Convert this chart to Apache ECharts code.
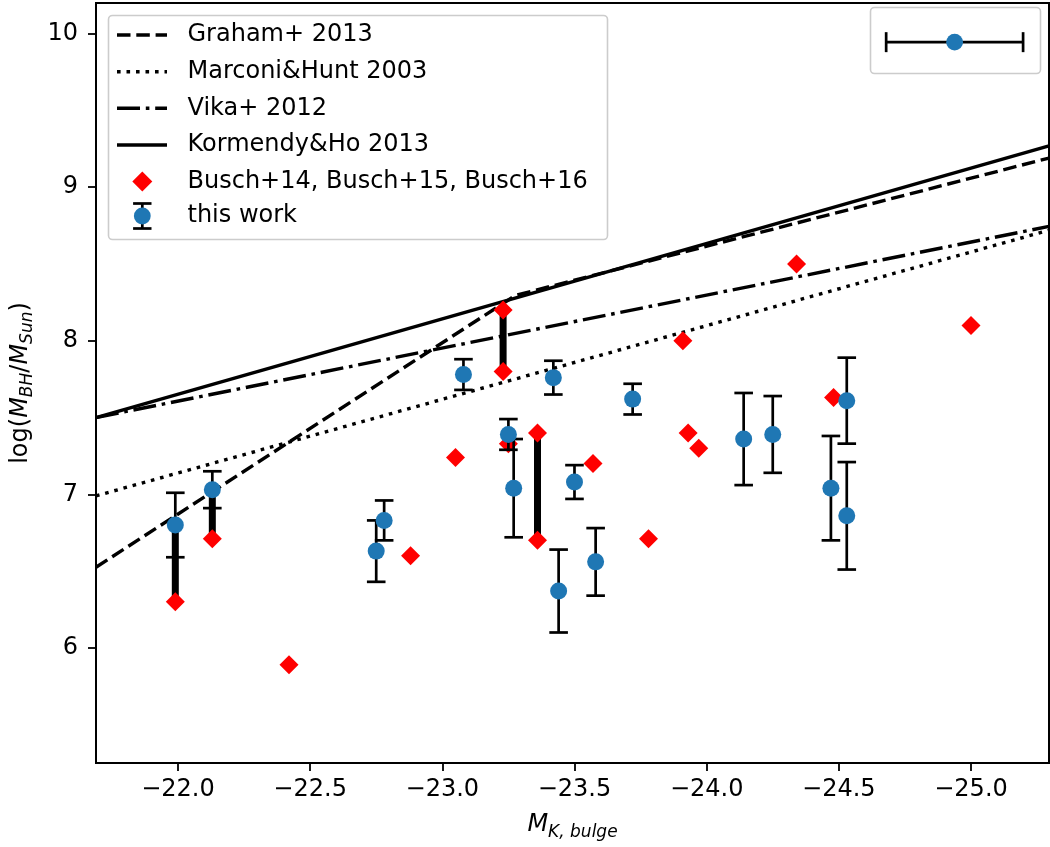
<!DOCTYPE html>
<html>
<head>
<meta charset="utf-8">
<script src="https://cdn.jsdelivr.net/npm/echarts@6/dist/echarts.min.js"></script>
<style>
html,body{margin:0;padding:0;background:#fff;}
#chart{width:1050px;height:847px;}
</style>
</head>
<body>
<div id="chart"></div>
<script>
// ---------------- DATA ----------------
// axis limits (x axis is inverted: brighter magnitudes to the right)
const xLimits = [-25.295, -21.69];
const yLimits = [5.25, 10.2];
const xTickValues = [-22.0, -22.5, -23.0, -23.5, -24.0, -24.5, -25.0];
const yTickValues = [6, 7, 8, 9, 10];

// scaling relations (endpoints / break points)
const grahamLine    = [[-21.69, 6.525], [-23.276, 8.295], [-25.295, 9.19]];
const marconiLine   = [[-21.69, 6.99], [-25.295, 8.72]];
const vikaLine      = [[-21.69, 7.50], [-25.295, 8.745]];
const kormendyLine  = [[-21.69, 7.50], [-25.295, 9.27]];

// this work: M_K,bulge, log M_BH, lower bound, upper bound
const workM   = [-21.99, -22.13, -22.75, -22.78, -23.08, -23.25, -23.27, -23.42, -23.44, -23.50, -23.58, -23.72, -24.14, -24.25, -24.47, -24.53, -24.53];
const workLog = [6.80, 7.03, 6.63, 6.83, 7.78, 7.39, 7.04, 7.76, 6.37, 7.08, 6.56, 7.62, 7.36, 7.39, 7.04, 7.61, 6.86];
const workLo  = [6.59, 6.91, 6.43, 6.70, 7.68, 7.29, 6.72, 7.65, 6.10, 6.97, 6.34, 7.52, 7.06, 7.14, 6.70, 7.33, 6.51];
const workHi  = [7.01, 7.15, 6.83, 6.96, 7.88, 7.49, 7.36, 7.87, 6.64, 7.19, 6.78, 7.72, 7.66, 7.64, 7.38, 7.89, 7.21];

// Busch+14, Busch+15, Busch+16
const buschM   = [-21.99, -22.13, -22.42, -22.88, -23.05, -23.23, -23.23, -23.25, -23.36, -23.36, -23.57, -23.78, -23.91, -23.93, -23.97, -24.34, -24.48, -25.00];
const buschLog = [6.30, 6.71, 5.89, 6.60, 7.24, 8.20, 7.80, 7.33, 7.40, 6.70, 7.20, 6.71, 8.00, 7.40, 7.30, 8.50, 7.63, 8.10];

// thick connectors between measurements of the same object: M, log1, log2
const connM  = [-21.99, -22.13, -23.23, -23.36];
const connY1 = [6.80, 7.03, 8.20, 7.40];
const connY2 = [6.30, 6.71, 7.80, 6.70];

// typical M_K uncertainty shown in the upper-right inset: x, y, xerr
const sampleErrX = [-24.938];
const sampleErrY = [9.945];
const sampleErrDX = [0.259];

const legendLabels = ['Graham+ 2013', 'Marconi&Hunt 2003', 'Vika+ 2012', 'Kormendy&Ho 2013', 'Busch+14, Busch+15, Busch+16', 'this work'];

// ---------------- STYLE ----------------
const FONT = 'DejaVu Sans';
const BLUE = '#1f77b4';
const RED = '#ff0000';
const LW = 3.4;
const DASH = [13.5, 5.8];
const DOT = [3.6, 5.9];
const DASHDOT = [23, 5.8, 3.6, 5.8];

const workData = workM.map((m, i) => [m, workLog[i], workLo[i], workHi[i]]);
const buschData = buschM.map((m, i) => [m, buschLog[i]]);
const connData = connM.map((m, i) => [m, connY1[i], connY2[i]]);
const sampleData = sampleErrX.map((x, i) => [x, sampleErrY[i], sampleErrDX[i]]);

function fmtMinus(v, d) {
  const s = Math.abs(v).toFixed(d);
  return (v < 0 ? '\u2212' : '') + s;
}

const chart = echarts.init(document.getElementById('chart'), null, {renderer: 'canvas'});

const lineSeries = (name, data, type, z) => ({
  name, type: 'line', data, symbol: 'none', z, silent: true, clip: true,
  lineStyle: {color: '#000', width: LW, type: type, cap: 'butt'},
  animation: false
});

// legend graphic
const legX = 108, legY = 15, legW = 499, legH = 224;
const rowY = [35, 71.7, 108.3, 145, 181.5, 216];
const hx1 = 117, hx2 = 167, hxc = 142.3, tx = 187.5;
const legendGraphic = [
  {type: 'rect', shape: {x: legX + 0.5, y: legY + 0.5, width: legW, height: legH, r: 4},
   style: {fill: 'rgba(255,255,255,0.8)', stroke: '#cccccc', lineWidth: 1.6}, z: 100},
  {type: 'line', shape: {x1: hx1, y1: rowY[0], x2: hx2, y2: rowY[0]}, style: {stroke: '#000', lineWidth: LW, lineDash: DASH}, z: 101},
  {type: 'line', shape: {x1: hx1, y1: rowY[1], x2: hx2, y2: rowY[1]}, style: {stroke: '#000', lineWidth: LW, lineDash: DOT}, z: 101},
  {type: 'line', shape: {x1: hx1, y1: rowY[2], x2: hx2, y2: rowY[2]}, style: {stroke: '#000', lineWidth: LW, lineDash: DASHDOT}, z: 101},
  {type: 'line', shape: {x1: hx1, y1: rowY[3], x2: hx2, y2: rowY[3]}, style: {stroke: '#000', lineWidth: LW}, z: 101},
  {type: 'polygon', shape: {points: [[hxc, rowY[4] - 10], [hxc + 10, rowY[4]], [hxc, rowY[4] + 10], [hxc - 10, rowY[4]]]}, style: {fill: RED}, z: 101},
  {type: 'line', shape: {x1: hxc, y1: rowY[5] - 12.5, x2: hxc, y2: rowY[5] + 12.5}, style: {stroke: '#000', lineWidth: 2.7}, z: 101},
  {type: 'line', shape: {x1: hxc - 9.2, y1: rowY[5] - 12.5, x2: hxc + 9.2, y2: rowY[5] - 12.5}, style: {stroke: '#000', lineWidth: 2.7}, z: 101},
  {type: 'line', shape: {x1: hxc - 9.2, y1: rowY[5] + 12.5, x2: hxc + 9.2, y2: rowY[5] + 12.5}, style: {stroke: '#000', lineWidth: 2.7}, z: 101},
  {type: 'circle', shape: {cx: hxc, cy: rowY[5], r: 8.4}, style: {fill: BLUE}, z: 102},
  // inset box for the typical uncertainty
  {type: 'rect', shape: {x: 870.5, y: 7.5, width: 170, height: 66, r: 4},
   style: {fill: 'rgba(255,255,255,0.8)', stroke: '#cccccc', lineWidth: 1.6}, z: 90}
].concat(legendLabels.map((t, i) => ({
  type: 'text', x: tx, y: rowY[i], z: 103,
  style: {text: t, fill: '#000', font: '24px "' + FONT + '"', textVerticalAlign: 'middle', textAlign: 'left'}
})));

const option = {
  animation: false,
  backgroundColor: '#fff',
  textStyle: {fontFamily: FONT},
  grid: {left: 96, right: 1, top: 3, bottom: 84, show: true, borderColor: '#000', borderWidth: 2, backgroundColor: 'transparent'},
  xAxis: {
    type: 'value', min: xLimits[0], max: xLimits[1], inverse: true,
    splitLine: {show: false},
    axisLine: {show: true, onZero: false, lineStyle: {color: '#000', width: 2}},
    axisTick: {show: true, customValues: xTickValues, length: 8, lineStyle: {color: '#000', width: 1.8}},
    axisLabel: {customValues: xTickValues, margin: 15, color: '#000', fontSize: 24, fontFamily: FONT,
      formatter: v => fmtMinus(v, 1)},
    name: '{i|M}{s|K, bulge}', nameLocation: 'middle', nameGap: 50,
    nameTextStyle: {color: '#000', fontFamily: FONT, fontSize: 24,
      rich: {i: {fontSize: 24, fontStyle: 'italic', fontFamily: FONT, lineHeight: 28, verticalAlign: 'top', color: '#000'},
             s: {fontSize: 17, fontStyle: 'italic', fontFamily: FONT, lineHeight: 16, verticalAlign: 'bottom', color: '#000'}}}
  },
  yAxis: {
    type: 'value', min: yLimits[0], max: yLimits[1],
    splitLine: {show: false},
    axisLine: {show: true, onZero: false, lineStyle: {color: '#000', width: 2}},
    axisTick: {show: true, customValues: yTickValues, length: 8, lineStyle: {color: '#000', width: 1.8}},
    axisLabel: {customValues: yTickValues, margin: 18, color: '#000', fontSize: 24, fontFamily: FONT,
      formatter: v => String(Math.round(v))},
    name: '{n|log(}{i|M}{s|BH}{n|/}{i|M}{s|Sun}{n|)}', nameLocation: 'middle', nameGap: 58,
    nameTextStyle: {color: '#000', fontFamily: FONT, fontSize: 24,
      rich: {n: {fontSize: 24, fontFamily: FONT, lineHeight: 28, verticalAlign: 'top', color: '#000'},
             i: {fontSize: 24, fontStyle: 'italic', fontFamily: FONT, lineHeight: 28, verticalAlign: 'top', color: '#000'},
             s: {fontSize: 17, fontStyle: 'italic', fontFamily: FONT, lineHeight: 16, verticalAlign: 'bottom', color: '#000'}}}
  },
  graphic: legendGraphic,
  series: [
    lineSeries('Graham+ 2013', grahamLine, DASH, 2),
    lineSeries('Marconi&Hunt 2003', marconiLine, DOT, 2),
    lineSeries('Vika+ 2012', vikaLine, DASHDOT, 2),
    lineSeries('Kormendy&Ho 2013', kormendyLine, 'solid', 2),
    {
      name: 'connectors', type: 'custom', data: connData, z: 3, clip: true, silent: true,
      renderItem: (params, api) => {
        const a = api.coord([api.value(0), api.value(1)]);
        const b = api.coord([api.value(0), api.value(2)]);
        return {type: 'line', shape: {x1: a[0], y1: a[1], x2: b[0], y2: b[1]}, style: {stroke: '#000', lineWidth: 7}};
      },
      encode: {x: 0, y: [1, 2]}
    },
    {
      name: 'Busch+14, Busch+15, Busch+16', type: 'scatter', data: buschData, z: 4,
      symbol: 'diamond', symbolSize: 19, itemStyle: {color: RED, opacity: 1}, silent: true
    },
    {
      name: 'errorbars', type: 'custom', data: workData, z: 5, clip: true, silent: true,
      renderItem: (params, api) => {
        const x = api.value(0);
        const lo = api.coord([x, api.value(2)]);
        const hi = api.coord([x, api.value(3)]);
        const cw = 9.3;
        const st = {stroke: '#000', lineWidth: 2.7};
        return {type: 'group', children: [
          {type: 'line', shape: {x1: lo[0], y1: lo[1], x2: hi[0], y2: hi[1]}, style: st},
          {type: 'line', shape: {x1: lo[0] - cw, y1: lo[1], x2: lo[0] + cw, y2: lo[1]}, style: st},
          {type: 'line', shape: {x1: hi[0] - cw, y1: hi[1], x2: hi[0] + cw, y2: hi[1]}, style: st}
        ]};
      },
      encode: {x: 0, y: [1, 2, 3]}
    },
    {
      name: 'this work', type: 'scatter', data: workData.map(d => [d[0], d[1]]), z: 6,
      symbol: 'circle', symbolSize: 17, itemStyle: {color: BLUE, opacity: 1}, silent: true
    },
    {
      name: 'typical error', type: 'custom', data: sampleData, z: 95, clip: false, silent: true,
      renderItem: (params, api) => {
        const x = api.value(0), y = api.value(1), dx = api.value(2);
        const l = api.coord([x - dx, y]);
        const r = api.coord([x + dx, y]);
        const c = api.coord([x, y]);
        const ch = 10;
        const st = {stroke: '#000', lineWidth: 2.7};
        return {type: 'group', children: [
          {type: 'line', shape: {x1: l[0], y1: l[1], x2: r[0], y2: r[1]}, style: st},
          {type: 'line', shape: {x1: l[0], y1: l[1] - ch, x2: l[0], y2: l[1] + ch}, style: st},
          {type: 'line', shape: {x1: r[0], y1: r[1] - ch, x2: r[0], y2: r[1] + ch}, style: st},
          {type: 'circle', shape: {cx: c[0], cy: c[1], r: 8.4}, style: {fill: BLUE}}
        ]};
      },
      encode: {x: [0], y: [1]}
    }
  ]
};
chart.setOption(option);
</script>
</body>
</html>
